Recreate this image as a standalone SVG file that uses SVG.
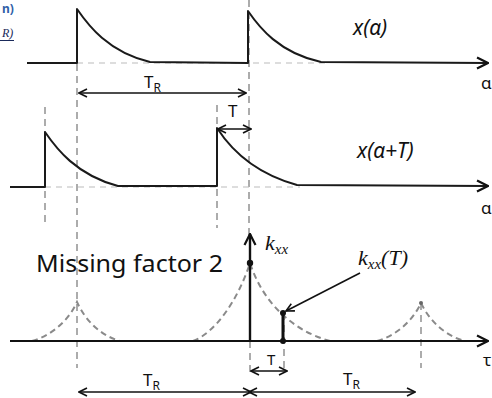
<svg xmlns="http://www.w3.org/2000/svg" width="492" height="398" viewBox="0 0 492 398">
<style>
.sig{fill:none;stroke:#1a1a1a;stroke-width:2;stroke-linejoin:round}
.base{fill:none;stroke:#bbb;stroke-width:1.2;stroke-dasharray:6 5}
.vd{fill:none;stroke:#808080;stroke-width:1.3;stroke-dasharray:7 5}
.cd{fill:none;stroke:#8a8a8a;stroke-width:2;stroke-dasharray:6 4}
.dim{fill:none;stroke:#111;stroke-width:1.6}
.lbl{font-family:"Noto Sans","Open Sans",sans-serif;fill:#111}
.it{font-family:"Noto Sans","Open Sans",sans-serif;font-style:italic;fill:#111}
.math{font-family:"Liberation Serif","DejaVu Serif",serif;font-style:italic;fill:#111}
</style>
<defs>
<marker id="ah" viewBox="0 0 10 10" refX="9" refY="5" markerWidth="10" markerHeight="10" markerUnits="userSpaceOnUse" orient="auto-start-reverse"><path d="M1,1 L9,5 L1,9" fill="none" stroke="#111" stroke-width="1.6"/></marker>
<marker id="axh" viewBox="0 0 14 14" refX="13" refY="7" markerWidth="14" markerHeight="14" markerUnits="userSpaceOnUse" orient="auto"><path d="M2,1.5 L13,7 L2,12.5" fill="none" stroke="#111" stroke-width="2.2"/></marker>
</defs>
<rect width="492" height="398" fill="#fff"/>

<g id="corner-text">
<text x="2" y="13" font-family="Noto Sans,sans-serif" font-size="12" font-weight="bold" fill="#2f5fa8">n)</text>
<text x="2" y="37" font-family="Liberation Serif,serif" font-style="italic" font-size="12" fill="#1a2a5a">R)</text>
<line x1="0" y1="40.5" x2="14" y2="40.5" stroke="#1a2a5a" stroke-width="1"/>
</g>

<g id="guides">
<line class="vd" x1="77" y1="64" x2="77" y2="368"/>
<line class="vd" x1="249" y1="0" x2="249" y2="240"/>
<line class="vd" x1="45" y1="107" x2="45" y2="222"/>
<line class="vd" x1="217" y1="105" x2="217" y2="228"/>
<line class="vd" x1="250" y1="341" x2="250" y2="376"/>
<line class="vd" x1="284" y1="313" x2="284" y2="372"/>
<line class="vd" x1="421" y1="303" x2="421" y2="368"/>
</g>

<g id="plot-x-alpha">
<line class="base" x1="77" y1="63" x2="330" y2="63"/>
<path class="sig" d="M27,63 L77,63 L77,9 C88,25 108,52 150,62 L248,63 L248,11 C259,27 279,53 321,62 L488,63" marker-end="url(#axh)"/>
<text class="lbl" x="481" y="89" font-size="17">α</text>
<text class="it" x="353" y="35" font-size="21">x(α)</text>
</g>

<g id="plot-x-alpha-T">
<line class="base" x1="45" y1="187" x2="300" y2="187"/>
<path class="sig" d="M10,187 L45,187 L45,132 C56,148 76,175 118,186 L217,186 L217,128 C228,145 250,172 297,185 L488,186" marker-end="url(#axh)"/>
<text class="lbl" x="481" y="214" font-size="17">α</text>
<text class="it" x="357" y="158" font-size="21">x(α+T)</text>
</g>

<g id="plot-kxx">
<path class="cd" d="M193,341 C215,333 238,300 250,263 C262,300 290,330 330,341"/>
<path class="cd" d="M32,341 C50,336 68,322 77,302 C86,322 102,336 120,341"/>
<path class="cd" d="M377,341 C395,336 412,322 421,303 C430,322 446,336 465,341"/>
<line x1="10" y1="341" x2="488" y2="341" stroke="#111" stroke-width="2.2" marker-end="url(#axh)"/>
<line x1="250" y1="341" x2="250" y2="234" stroke="#111" stroke-width="2.4" marker-end="url(#axh)"/>
<circle cx="250" cy="263" r="3.2" fill="#111"/>
<line x1="283" y1="341" x2="283" y2="313" stroke="#111" stroke-width="3"/>
<circle cx="283" cy="313" r="3" fill="#111"/>
<circle cx="283" cy="341" r="3" fill="#111"/>
<circle cx="421" cy="303" r="2" fill="#666"/>
<text class="lbl" x="483" y="366" font-size="17">τ</text>
<text class="math" x="265" y="250" font-size="22">k<tspan font-size="15" dy="4">xx</tspan></text>
<text class="math" x="358" y="265" font-size="22">k<tspan font-size="15" dy="4">xx</tspan><tspan dy="-4">(T)</tspan></text>
<text class="lbl" x="36" y="272" font-size="24" textLength="187" lengthAdjust="spacingAndGlyphs">Missing factor 2</text>
</g>

<g id="connectors">
<line class="dim" x1="79" y1="93" x2="246" y2="93" marker-start="url(#ah)" marker-end="url(#ah)"/>
<line class="dim" x1="218" y1="129" x2="251" y2="129" marker-start="url(#ah)" marker-end="url(#ah)"/>
<line class="dim" x1="251" y1="371" x2="287" y2="371" marker-start="url(#ah)" marker-end="url(#ah)"/>
<line class="dim" x1="79" y1="392" x2="251" y2="392" marker-start="url(#ah)" marker-end="url(#ah)"/>
<line class="dim" x1="249" y1="392" x2="415" y2="392" marker-start="url(#ah)" marker-end="url(#ah)"/>
<line class="dim" x1="360" y1="273" x2="286" y2="311" marker-end="url(#ah)"/>
</g>

<g id="dim-labels">
<text class="lbl" x="144" y="88" font-size="17">T<tspan font-size="12" dy="4">R</tspan></text>
<text class="lbl" x="228" y="117" font-size="17">T</text>
<text class="lbl" x="267" y="365" font-size="15">T</text>
<text class="lbl" x="143" y="386" font-size="17">T<tspan font-size="12" dy="4">R</tspan></text>
<text class="lbl" x="343" y="385" font-size="17">T<tspan font-size="12" dy="4">R</tspan></text>
</g>
</svg>
